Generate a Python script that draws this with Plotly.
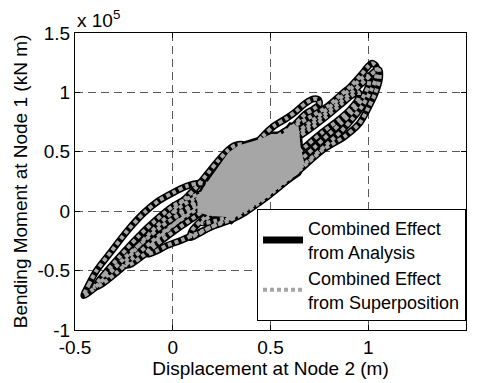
import plotly.graph_objects as go

# Displacement at Node 2 (m) and bending moment at Node 1 (x 1e5 kN m)
loop_a_x = [-0.455, -0.43, -0.39, -0.315, -0.235, -0.145, -0.07, 0.0, 0.07, 0.13, 0.18, 0.21, 0.19, 0.12, 0.03, -0.06, -0.14, -0.25, -0.34, -0.41, -0.455]
loop_a_y = [-0.71, -0.62, -0.50, -0.34, -0.17, -0.01, 0.09, 0.155, 0.21, 0.235, 0.23, 0.20, 0.14, 0.07, -0.03, -0.13, -0.24, -0.40, -0.55, -0.66, -0.71]

loop_h_x = [-0.40, -0.35, -0.27, -0.18, -0.09, 0.0, 0.08, 0.16, 0.20, 0.15, 0.07, -0.02, -0.11, -0.20, -0.29, -0.36, -0.40]
loop_h_y = [-0.64, -0.53, -0.38, -0.22, -0.08, 0.04, 0.11, 0.15, 0.12, 0.05, -0.04, -0.14, -0.26, -0.39, -0.52, -0.61, -0.64]

loop_i_x = [-0.25, -0.20, -0.12, -0.03, 0.06, 0.15, 0.22, 0.25, 0.20, 0.12, 0.03, -0.06, -0.15, -0.22, -0.25]
loop_i_y = [-0.45, -0.34, -0.19, -0.05, 0.06, 0.14, 0.18, 0.15, 0.06, -0.04, -0.14, -0.25, -0.37, -0.45, -0.45]

loop_b_x = [-0.13, -0.11, -0.04, 0.05, 0.15, 0.27, 0.39, 0.50, 0.60, 0.70, 0.79, 0.86, 0.91, 0.965, 1.00, 1.02, 1.04,
            1.04, 1.015, 0.975, 0.92, 0.86, 0.78, 0.69, 0.59, 0.49, 0.40, 0.30, 0.20, 0.12, 0.05, -0.03, -0.09, -0.13]
loop_b_y = [-0.36, -0.29, -0.18, -0.05, 0.08, 0.25, 0.43, 0.59, 0.70, 0.79, 0.88, 0.98, 1.05, 1.15, 1.22, 1.245, 1.22,
            1.12, 1.02, 0.90, 0.78, 0.67, 0.55, 0.42, 0.28, 0.15, 0.04, -0.05, -0.13, -0.19, -0.24, -0.29, -0.34, -0.36]

loop_c_x = [0.09, 0.10, 0.16, 0.25, 0.35, 0.45, 0.55, 0.65, 0.75, 0.85, 0.93, 0.99, 1.035, 1.055,
            1.058, 1.035, 1.00, 0.955, 0.88, 0.77, 0.65, 0.52, 0.44, 0.37, 0.30, 0.20, 0.13, 0.09]
loop_c_y = [-0.22, -0.16, -0.06, 0.07, 0.22, 0.38, 0.53, 0.66, 0.78, 0.91, 1.02, 1.11, 1.18, 1.19,
            1.12, 0.99, 0.87, 0.74, 0.63, 0.52, 0.35, 0.17, 0.07, -0.01, -0.07, -0.13, -0.19, -0.22]

loop_f_x = [0.15, 0.22, 0.31, 0.41, 0.51, 0.60, 0.68, 0.76, 0.84, 0.91, 0.96, 0.99, 1.005,
            1.00, 0.97, 0.92, 0.86, 0.80, 0.72, 0.62, 0.52, 0.42, 0.32, 0.22, 0.15]
loop_f_y = [-0.10, 0.00, 0.14, 0.31, 0.48, 0.62, 0.72, 0.82, 0.93, 1.03, 1.11, 1.14, 1.12,
            1.05, 0.95, 0.84, 0.74, 0.65, 0.53, 0.38, 0.23, 0.09, -0.02, -0.08, -0.10]

loop_g_x = [0.25, 0.34, 0.44, 0.54, 0.63, 0.70, 0.78, 0.86, 0.92, 0.95,
            0.95, 0.91, 0.85, 0.77, 0.69, 0.60, 0.50, 0.40, 0.31, 0.25]
loop_g_y = [0.03, 0.17, 0.33, 0.49, 0.61, 0.69, 0.79, 0.90, 0.98, 1.00,
            0.95, 0.86, 0.77, 0.67, 0.56, 0.43, 0.28, 0.13, 0.03, 0.03]

loop_d_x = [0.40, 0.46, 0.52, 0.58, 0.63, 0.68, 0.72, 0.745, 0.75, 0.72, 0.68, 0.62, 0.56, 0.48, 0.40]
loop_d_y = [0.50, 0.63, 0.72, 0.78, 0.84, 0.91, 0.945, 0.94, 0.90, 0.86, 0.82, 0.72, 0.62, 0.50, 0.50]

loop_e_x = [0.0, 0.06, 0.12, 0.18, 0.23, 0.28, 0.32, 0.36, 0.37, 0.33, 0.27, 0.20, 0.12, 0.05, 0.0]
loop_e_y = [0.0, 0.10, 0.20, 0.32, 0.42, 0.51, 0.555, 0.56, 0.52, 0.45, 0.34, 0.22, 0.09, 0.0, 0.0]

# dense central cluster of small cycles (outline)
blob_x = [0.12, 0.20, 0.27, 0.30, 0.33, 0.38, 0.43, 0.49, 0.545, 0.60, 0.65, 0.68,
          0.66, 0.65, 0.60, 0.56, 0.50, 0.45, 0.41, 0.33, 0.28, 0.25, 0.20, 0.15, 0.12, 0.12]
blob_y = [-0.02, -0.05, -0.06, -0.10, -0.05, 0.00, 0.05, 0.11, 0.19, 0.25, 0.31, 0.40,
          0.55, 0.72, 0.74, 0.66, 0.66, 0.62, 0.60, 0.56, 0.50, 0.43, 0.32, 0.20, 0.10, -0.02]

x_ticks = [-0.5, 0, 0.5, 1, 1.5]
x_tick_labels = ["-0.5", "0", "0.5", "1", "1.5"]
y_ticks = [-1, -0.5, 0, 0.5, 1, 1.5]
y_tick_labels = ["-1", "-0.5", "0", "0.5", "1", "1.5"]

loops_x = [loop_a_x, loop_h_x, loop_i_x, loop_b_x, loop_c_x, loop_f_x, loop_g_x, loop_d_x, loop_e_x]
loops_y = [loop_a_y, loop_h_y, loop_i_y, loop_b_y, loop_c_y, loop_f_y, loop_g_y, loop_d_y, loop_e_y]

all_x, all_y = [], []
for lx, ly in zip(loops_x, loops_y):
    all_x += lx + [None]
    all_y += ly + [None]

FONT = "Liberation Sans, Arial, sans-serif"

fig = go.Figure()
fig.add_trace(go.Scatter(
    x=all_x, y=all_y, mode="lines", name="Combined Effect<br>from Analysis",
    line=dict(color="black", width=7, shape="spline", smoothing=0.8),
))
fig.add_trace(go.Scatter(
    x=blob_x, y=blob_y, mode="lines", fill="toself", fillcolor="#a6a6a6",
    line=dict(color="black", width=2.5), showlegend=False, hoverinfo="skip",
))
fig.add_trace(go.Scatter(
    x=all_x, y=all_y, mode="lines", name="Combined Effect<br>from Superposition",
    line=dict(color="#a6a6a6", width=4, dash="4px,3px", shape="spline", smoothing=0.8),
))

axis_common = dict(
    showline=True, linecolor="black", linewidth=1, mirror="ticks",
    ticks="inside", ticklen=5, tickcolor="black",
    showgrid=True, gridcolor="#5a5a5a", gridwidth=1, griddash="8px,5px",
    zeroline=False, tickfont=dict(family=FONT, size=19, color="black"),
)

fig.update_layout(
    width=477, height=383,
    margin=dict(l=75, r=10, t=33, b=51),
    paper_bgcolor="white", plot_bgcolor="white",
    font=dict(family=FONT, size=19, color="black"),
    xaxis=dict(range=[-0.5, 1.5], tickvals=x_ticks, ticktext=x_tick_labels,
               title=dict(text="Displacement at Node 2 (m)", font=dict(family=FONT, size=19), standoff=2),
               **axis_common),
    yaxis=dict(range=[-1, 1.5], tickvals=y_ticks, ticktext=y_tick_labels,
               title=dict(text="Bending Moment at Node 1 (kN m)", font=dict(family=FONT, size=19), standoff=4),
               **axis_common),
    legend=dict(x=1, xanchor="right", y=0.03, yanchor="bottom",
                bgcolor="white", bordercolor="black", borderwidth=1, itemwidth=40,
                font=dict(family=FONT, size=18, color="black"), tracegroupgap=0),
    showlegend=True,
    annotations=[dict(text="x 10<sup>5</sup>", xref="paper", yref="paper", x=0, y=1,
                      xanchor="left", yanchor="bottom", showarrow=False, yshift=0,
                      font=dict(family=FONT, size=19, color="black"))],
)

fig.write_html("out.html")
